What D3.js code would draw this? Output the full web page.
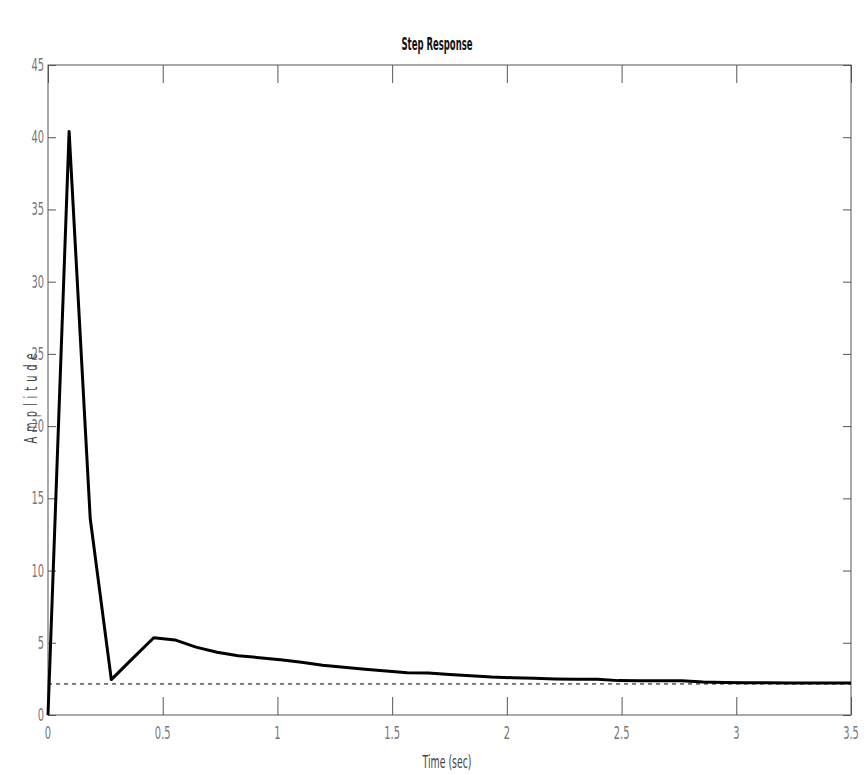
<!DOCTYPE html>
<html lang="en">
<head>
<meta charset="UTF-8">
<title>Step Response</title>
<script src="https://d3js.org/d3.v7.min.js"></script>
<style>
  body { margin: 0; background: #fff; }
  text { font-family: "DejaVu Sans", sans-serif; }
</style>
</head>
<body>
<div id="chart"></div>
<script>
// sampled step response (time in sec, amplitude)
const times = [0, 0.092, 0.184, 0.276, 0.368, 0.461, 0.553, 0.645, 0.737, 0.829,
  0.921, 1.013, 1.105, 1.197, 1.289, 1.382, 1.474, 1.566, 1.658, 1.75,
  1.842, 1.934, 2.026, 2.118, 2.211, 2.303, 2.395, 2.487, 2.579, 2.671,
  2.763, 2.855, 2.947, 3.039, 3.132, 3.224, 3.316, 3.408, 3.5];
const amplitude = [0, 40.4, 13.6, 2.45, 3.9, 5.35, 5.2, 4.7, 4.35, 4.1,
  3.97, 3.83, 3.65, 3.45, 3.3, 3.17, 3.05, 2.93, 2.9, 2.8,
  2.72, 2.63, 2.58, 2.55, 2.5, 2.48, 2.48, 2.38, 2.37, 2.37,
  2.37, 2.28, 2.25, 2.24, 2.23, 2.22, 2.22, 2.21, 2.21];
const finalValue = 2.15;
const xTicks = [0, 0.5, 1, 1.5, 2, 2.5, 3, 3.5];
const yTicks = [0, 5, 10, 15, 20, 25, 30, 35, 40, 45];

const W = 866, H = 775;
const margin = { top: 65, right: 15, bottom: 60, left: 48 };
const width = W - margin.left - margin.right;
const height = H - margin.top - margin.bottom;
const squeeze = 0.55; // narrow text look

const svg = d3.select("#chart").append("svg")
  .attr("width", W).attr("height", H);

const g = svg.append("g")
  .attr("transform", `translate(${margin.left},${margin.top})`);

const x = d3.scaleLinear().domain([0, 3.5]).range([0, width]);
const y = d3.scaleLinear().domain([0, 45]).range([height, 0]);

// frame
g.append("rect")
  .attr("width", width).attr("height", height)
  .attr("fill", "none").attr("stroke", "#555").attr("stroke-width", 1);

// ticks on all four sides, pointing inward
const tickStyle = sel => {
  sel.select(".domain").remove();
  sel.selectAll("line").attr("stroke", "#555");
};
g.append("g").attr("transform", `translate(0,${height})`)
  .call(d3.axisBottom(x).tickValues(xTicks).tickSize(-18).tickFormat(""))
  .call(tickStyle);
g.append("g")
  .call(d3.axisTop(x).tickValues(xTicks).tickSize(-18).tickFormat(""))
  .call(tickStyle);
g.append("g")
  .call(d3.axisLeft(y).tickValues(yTicks).tickSize(-8).tickFormat(""))
  .call(tickStyle);
g.append("g").attr("transform", `translate(${width},0)`)
  .call(d3.axisRight(y).tickValues(yTicks).tickSize(-8).tickFormat(""))
  .call(tickStyle);

// tick labels
g.selectAll(".xlab").data(xTicks).join("text")
  .attr("transform", d => `translate(${x(d)},${height + 24}) scale(${squeeze},1)`)
  .attr("text-anchor", "middle")
  .attr("font-size", 18).attr("fill", "#777")
  .text(d => d);

g.selectAll(".ylab").data(yTicks).join("text")
  .attr("transform", d => `translate(-4,${y(d) + 6}) scale(${squeeze},1)`)
  .attr("text-anchor", "end")
  .attr("font-size", 18).attr("fill", "#777")
  .text(d => d);

// final value reference
g.append("line")
  .attr("x1", x(0)).attr("x2", x(3.5))
  .attr("y1", y(finalValue)).attr("y2", y(finalValue))
  .attr("stroke", "#000").attr("stroke-width", 1)
  .attr("stroke-dasharray", "4,4");

// response curve
const line = d3.line()
  .x((d, i) => x(times[i]))
  .y(d => y(d));

g.append("path")
  .datum(amplitude)
  .attr("fill", "none")
  .attr("stroke", "#000")
  .attr("stroke-width", 3)
  .attr("stroke-linejoin", "round")
  .attr("d", line);

// title and axis labels
svg.append("text")
  .attr("transform", `translate(437,50) scale(0.5,1)`)
  .attr("text-anchor", "middle")
  .attr("font-size", 17).attr("font-weight", "bold").attr("fill", "#111")
  .text("Step Response");

svg.append("text")
  .attr("transform", `translate(447,768) scale(${squeeze},1)`)
  .attr("text-anchor", "middle")
  .attr("font-size", 17).attr("fill", "#444")
  .text("Time (sec)");

svg.append("text")
  .attr("transform", `translate(37,396) rotate(-90) scale(${squeeze},1)`)
  .attr("text-anchor", "middle")
  .attr("font-size", 18).attr("fill", "#444")
  .attr("letter-spacing", 9)
  .text("Amplitude");
</script>
</body>
</html>
